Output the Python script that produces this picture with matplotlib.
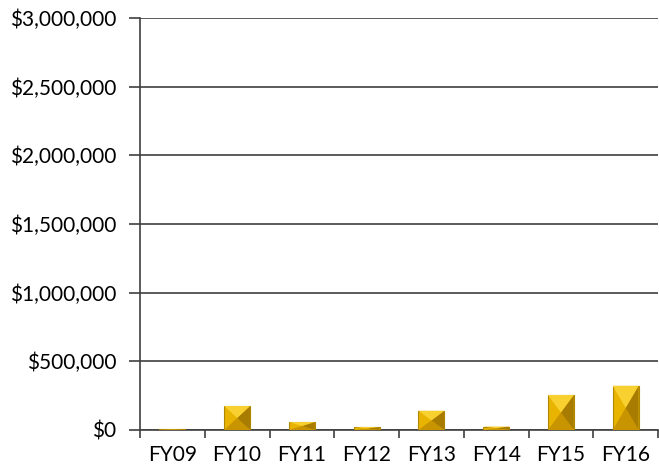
import numpy as np
import matplotlib.pyplot as plt
from matplotlib.patches import Polygon
from matplotlib.ticker import FuncFormatter

years = ['FY09', 'FY10', 'FY11', 'FY12', 'FY13', 'FY14', 'FY15', 'FY16']
amounts = [4000, 175000, 58000, 22000, 140000, 25000, 255000, 322000]

plt.rcParams['font.family'] = ['Lato', 'DejaVu Sans']

fig = plt.figure(figsize=(6.59, 4.72), dpi=100)
ax = fig.add_axes([140/659, 42/472, 518/659, 412/472])

x = np.arange(len(years))
w = 0.4
bars = ax.bar(x, amounts, width=w, color='#E8B400', edgecolor='#B08800', linewidth=0.8, zorder=3)

# bevel: shaded triangles to mimic the pyramid look
for b in bars:
    x0, y0 = b.get_x(), b.get_y()
    bw, bh = b.get_width(), b.get_height()
    if bh <= 0:
        continue
    cx, cy = x0 + bw / 2, y0 + bh / 2
    ax.add_patch(Polygon([(x0, y0), (cx, cy), (x0 + bw, y0)], closed=True,
                         facecolor='#C89400', edgecolor='none', zorder=4))
    ax.add_patch(Polygon([(x0 + bw, y0), (cx, cy), (x0 + bw, y0 + bh)], closed=True,
                         facecolor='#A87C00', edgecolor='none', zorder=4))
    ax.add_patch(Polygon([(x0, y0 + bh), (cx, cy), (x0 + bw, y0 + bh)], closed=True,
                         facecolor='#F8D030', edgecolor='none', zorder=4))

ax.set_xlim(-0.5, len(years) - 0.5)
ax.set_ylim(0, 3000000)
ax.set_yticks(np.arange(0, 3000001, 500000))
ax.yaxis.set_major_formatter(FuncFormatter(lambda v, p: '${:,.0f}'.format(v)))
ax.yaxis.grid(True, color='#404040', linewidth=1.2, zorder=0)

ax.set_xticks(np.arange(-0.5, len(years), 1))
ax.set_xticklabels([])
ax.set_xticks(x, minor=True)
ax.set_xticklabels(years, minor=True)
ax.tick_params(axis='x', which='major', length=6, width=1.2, color='#404040')
ax.tick_params(axis='x', which='minor', length=0, pad=11, labelsize=15)
ax.tick_params(axis='y', length=8, width=1.2, color='#404040', labelsize=15, pad=9)

for s in ['top', 'right']:
    ax.spines[s].set_visible(False)
for s in ['left', 'bottom']:
    ax.spines[s].set_color('#404040')
    ax.spines[s].set_linewidth(1.2)

fig.savefig('out.png', dpi=100)
